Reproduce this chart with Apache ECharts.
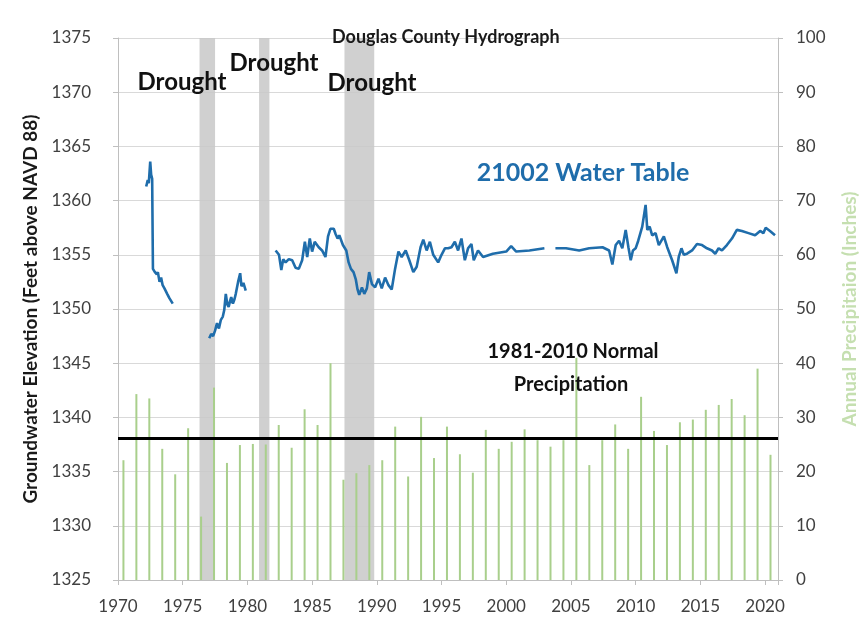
<!DOCTYPE html>
<html><head><meta charset="utf-8">
<script src="https://cdn.jsdelivr.net/npm/echarts@6/dist/echarts.min.js"></script>
<style>html,body{margin:0;padding:0;background:#fff}#c{width:867px;height:635px}</style>
</head><body><div id="c"></div>
<script>
// ---------- data ----------
const precipYears = [1970,1971,1972,1973,1974,1975,1976,1977,1978,1979,1980,1981,1982,1983,1984,1985,1986,1987,1988,1989,1990,1991,1992,1993,1994,1995,1996,1997,1998,1999,2000,2001,2002,2003,2004,2005,2006,2007,2008,2009,2010,2011,2012,2013,2014,2015,2016,2017,2018,2019,2020];
const precipInches = [22.1,34.3,33.5,24.2,19.5,28.0,11.7,35.5,21.6,24.9,25.1,25.0,28.6,24.4,31.5,28.6,40.0,18.5,19.7,21.2,22.1,28.3,19.1,30.1,22.5,28.3,23.2,19.8,27.7,24.2,25.5,27.8,25.8,24.6,25.8,41.0,21.2,25.8,28.7,24.2,33.8,27.5,24.9,29.1,29.6,31.4,32.3,33.4,30.4,39.0,23.1];
const normalPrecip = 26.2;
const droughtStart = [1976.3, 1980.9, 1987.5];
const droughtEnd   = [1977.5, 1981.7, 1989.8];
// water table: decimal year / elevation; null breaks the line
const wlTime = [1972.18,1972.30,1972.38,1972.49,1972.56,1972.64,1972.70,1972.85,1973.00,1973.08,1973.21,1973.33,1973.45,1973.59,1973.80,1973.97,1974.23,null,
1977.05,1977.20,1977.35,1977.50,1977.65,1977.80,1977.95,1978.10,1978.21,1978.33,1978.45,1978.55,1978.65,1978.75,1978.88,1979.00,1979.10,1979.28,1979.44,1979.54,1979.69,1979.87,null,
1982.18,1982.44,1982.62,1982.77,1982.95,1983.20,1983.46,1983.72,1983.97,1984.23,1984.44,1984.62,1984.82,1985.00,1985.20,1985.51,1985.77,1986.03,1986.23,1986.41,1986.67,1986.82,1986.97,1987.10,1987.38,1987.64,1987.82,1988.00,1988.20,1988.38,1988.51,1988.64,1988.85,1989.03,1989.23,1989.41,1989.62,1989.87,1990.13,1990.38,1990.64,1990.90,1991.15,1991.41,1991.67,1991.92,1992.23,1992.51,1992.82,1993.08,1993.38,1993.59,1993.85,1994.10,1994.36,1994.74,1995.00,1995.26,1995.51,1995.77,1996.03,1996.28,1996.54,1996.80,1997.05,1997.31,1997.49,1997.82,1998.21,1998.97,2000.00,2000.38,2000.77,2001.79,2002.95,null,
2003.80,2004.62,2005.64,2006.41,2007.44,2007.95,2008.20,2008.46,2008.72,2008.97,2009.23,2009.44,2009.62,2009.79,2010.00,2010.20,2010.51,2010.77,2010.90,2011.08,2011.28,2011.54,2011.79,2012.18,2012.44,2012.82,2013.15,2013.33,2013.54,2013.72,2013.97,2014.36,2014.74,2015.13,2015.51,2015.90,2016.15,2016.41,2016.67,2017.05,2017.44,2017.82,2018.21,2018.72,2019.23,2019.62,2019.87,2020.05,2020.38,2020.77];
const wlElev = [1361.3,1361.9,1361.6,1363.6,1362.4,1362.0,1353.7,1353.4,1353.2,1353.4,1352.5,1352.9,1352.2,1351.9,1351.4,1351.0,1350.5,null,
1347.3,1347.7,1347.5,1348.0,1348.7,1348.2,1349.0,1349.3,1349.9,1351.4,1350.4,1350.2,1350.7,1351.1,1350.5,1350.9,1351.4,1352.5,1353.3,1352.1,1352.4,1351.7,null,
1355.4,1355.0,1353.6,1354.6,1354.3,1354.6,1354.5,1353.8,1353.7,1354.5,1356.2,1354.8,1356.5,1355.3,1356.2,1355.7,1355.4,1354.8,1356.7,1357.4,1357.4,1356.9,1356.5,1356.8,1355.9,1355.4,1354.3,1353.7,1353.4,1352.7,1351.8,1351.3,1352.0,1351.4,1351.9,1353.4,1352.3,1352.0,1352.8,1351.9,1352.9,1352.2,1351.8,1353.7,1355.3,1354.8,1355.4,1354.5,1353.4,1353.9,1355.7,1356.4,1355.4,1356.2,1355.0,1354.3,1355.0,1355.6,1355.6,1355.7,1356.2,1355.4,1356.5,1354.5,1355.6,1356.0,1354.5,1355.4,1354.8,1355.1,1355.3,1355.8,1355.3,1355.4,1355.6,null,
1355.6,1355.6,1355.4,1355.6,1355.7,1355.4,1354.1,1355.9,1356.3,1355.6,1357.3,1355.7,1354.5,1355.4,1355.6,1356.3,1357.6,1359.6,1357.3,1357.6,1356.8,1357.0,1355.9,1356.7,1355.7,1354.5,1353.3,1354.8,1355.6,1355.0,1355.1,1355.4,1356.0,1355.9,1355.6,1355.4,1355.1,1355.6,1355.4,1355.9,1356.5,1357.3,1357.2,1357.0,1356.8,1357.2,1357.0,1357.5,1357.2,1356.8];
const xTicks = [1970,1975,1980,1985,1990,1995,2000,2005,2010,2015,2020];

// ---------- build ----------
const barData = precipYears.map((y,i)=>[y+0.42, precipInches[i]]);
const lineData = wlTime.map((t,i)=> t===null ? [null,null] : [t, wlElev[i]]);
const bands = droughtStart.map((s,i)=>[{xAxis:s},{xAxis:droughtEnd[i]}]);

const FONT = 'Lato';
function txt(x,y,s,font,fill){
  return {type:'text',x:x,y:y,z:10,silent:true,style:{text:s,align:'center',verticalAlign:'middle',textAlign:'center',textVerticalAlign:'middle',font:font,fill:fill}};
}
const chart = echarts.init(document.getElementById('c'), null, {renderer:'canvas'});
chart.setOption({
  animation:false,
  backgroundColor:'#ffffff',
  textStyle:{fontFamily:FONT},
  title:{text:'Douglas County Hydrograph', left:327, top:23,
    textStyle:{fontFamily:FONT,fontSize:18,fontWeight:'bold',color:'#1a1a1a'}},
  grid:{left:118,right:85,top:38,bottom:55},
  xAxis:{type:'value',min:1970,max:2021,interval:5,
    axisLine:{show:true,lineStyle:{color:'#bfbfbf'}},
    axisTick:{show:true,length:5,lineStyle:{color:'#bfbfbf'}},
    splitLine:{show:false},
    axisLabel:{margin:18,fontSize:17,color:'#404040',fontFamily:FONT,
      formatter:v=> xTicks.indexOf(v)>=0 ? String(v) : ''}},
  yAxis:[
    {type:'value',min:1325,max:1375,interval:5,position:'left',
     name:'Groundwater Elevation (Feet above NAVD 88)',nameLocation:'middle',nameGap:60,
     nameTextStyle:{fontFamily:FONT,fontSize:19,fontWeight:'bold',color:'#1a1a1a'},
     axisLine:{show:true,lineStyle:{color:'#bfbfbf'}},
     axisTick:{show:true,length:5,lineStyle:{color:'#bfbfbf'}},
     splitLine:{show:true,lineStyle:{color:'#d9d9d9'}},
     axisLabel:{margin:27,fontSize:17,color:'#404040',fontFamily:FONT,formatter:v=>String(v)}},
    {type:'value',min:0,max:100,interval:10,position:'right',
     name:'Annual Precipitaion (Inches)',nameLocation:'middle',nameGap:62,
     nameTextStyle:{fontFamily:FONT,fontSize:19,fontWeight:'bold',color:'#c5dfb0'},
     axisLine:{show:true,lineStyle:{color:'#bfbfbf'}},
     axisTick:{show:true,length:5,lineStyle:{color:'#bfbfbf'}},
     splitLine:{show:false},
     axisLabel:{margin:18,fontSize:17,color:'#404040',fontFamily:FONT,formatter:v=>String(v)}}
  ],
  series:[
    {name:'Precip',type:'bar',yAxisIndex:1,data:barData,barWidth:2,z:2,
     itemStyle:{color:'#a9cf8c'}},
    {name:'Drought',type:'line',yAxisIndex:0,data:[],z:3,silent:true,
     markArea:{silent:true,itemStyle:{color:'rgba(200,200,200,0.85)'},data:bands}},
    {name:'Normal',type:'line',yAxisIndex:1,data:[],z:4,silent:true,
     markLine:{silent:true,symbol:'none',label:{show:false},
       lineStyle:{color:'#000',width:3,type:'solid'},data:[{yAxis:normalPrecip}]}},
    {name:'21002',type:'line',yAxisIndex:0,data:lineData,z:5,showSymbol:false,
     connectNulls:false,lineStyle:{color:'#1f6dab',width:2.6},itemStyle:{color:'#1f6dab'}}
  ],
  graphic:[
    txt(182,82,'Drought','bold 24px Lato','#111'),
    txt(274,63,'Drought','bold 24px Lato','#111'),
    txt(372,83,'Drought','bold 24px Lato','#111'),
    txt(583,173,'21002 Water Table','bold 25px Lato','#1f6dab'),
    txt(573,352,'1981-2010 Normal','bold 20px Lato','#111'),
    txt(571,385,'Precipitation','bold 20px Lato','#111')
  ]
});
</script></body></html>
